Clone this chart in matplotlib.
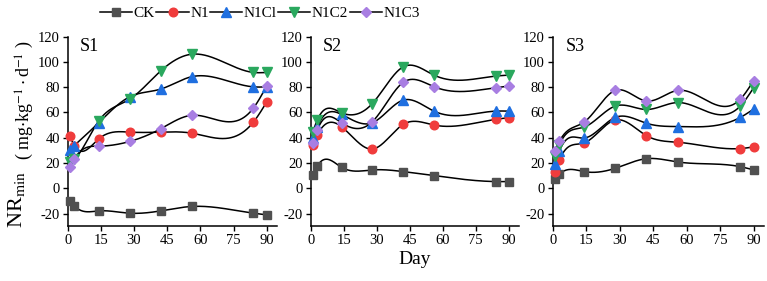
import numpy as np
import matplotlib
matplotlib.use("Agg")
import matplotlib.pyplot as plt
from matplotlib.lines import Line2D

plt.rcParams['font.family'] = ['Liberation Serif', 'DejaVu Serif']
plt.rcParams['mathtext.fontset'] = 'stix'
plt.rcParams['axes.unicode_minus'] = False

days = [1, 3, 14, 28, 42, 56, 84, 90]
names = ['CK', 'N1', 'N1Cl', 'N1C2', 'N1C3']

s1 = {
    'CK':   [-9.9, -14.0, -17.9, -19.7, -17.9, -14.4, -19.7, -21.0],
    'N1':   [41.0, 33.8, 39.0, 44.4, 44.4, 43.6, 52.4, 68.3],
    'N1Cl': [30.6, 33.8, 51.8, 72.3, 78.4, 88.2, 80.2, 80.2],
    'N1C2': [20.6, 23.0, 53.2, 70.4, 92.7, 106.0, 91.6, 91.6],
    'N1C3': [16.6, 23.2, 33.3, 37.0, 47.0, 57.7, 63.5, 81.0],
}
s2 = {
    'CK':   [10.5, 17.6, 16.6, 14.5, 13.2, 10.0, 5.3, 5.3],
    'N1':   [34.0, 42.0, 48.7, 31.0, 50.5, 50.0, 54.5, 55.8],
    'N1Cl': [39.5, 48.7, 58.4, 51.8, 69.7, 61.0, 61.0, 61.0],
    'N1C2': [44.7, 54.0, 59.7, 67.0, 96.0, 89.5, 88.7, 89.5],
    'N1C3': [35.5, 46.0, 51.8, 52.6, 83.7, 80.3, 79.5, 80.8],
}
s3 = {
    'CK':   [7.3, 11.2, 13.2, 15.8, 23.4, 20.8, 17.1, 14.5],
    'N1':   [12.5, 22.3, 35.8, 54.0, 41.6, 36.4, 31.4, 32.7],
    'N1Cl': [19.0, 29.4, 39.7, 56.0, 51.4, 48.8, 56.0, 62.6],
    'N1C2': [25.5, 34.5, 48.3, 65.0, 62.3, 67.8, 65.0, 79.5],
    'N1C3': [29.4, 37.1, 52.2, 77.4, 69.0, 77.4, 70.4, 85.2],
}
panels = ['S1', 'S2', 'S3']
data = [s1, s2, s3]

colors = {'CK': '#505050', 'N1': '#f03c3c', 'N1Cl': '#1f6fe0',
          'N1C2': '#2aa85e', 'N1C3': '#a87ee2'}
markers = {'CK': 's', 'N1': 'o', 'N1Cl': '^', 'N1C2': 'v', 'N1C3': 'D'}
msizes = {'CK': 5.5, 'N1': 6.2, 'N1Cl': 6.8, 'N1C2': 6.8, 'N1C3': 5.6}


def natural_spline(x, y, n=300):
    x = np.asarray(x, float)
    y = np.asarray(y, float)
    k = len(x)
    h = np.diff(x)
    A = np.zeros((k, k))
    b = np.zeros(k)
    A[0, 0] = 1
    A[-1, -1] = 1
    for i in range(1, k - 1):
        A[i, i - 1] = h[i - 1]
        A[i, i] = 2 * (h[i - 1] + h[i])
        A[i, i + 1] = h[i]
        b[i] = 6 * ((y[i + 1] - y[i]) / h[i] - (y[i] - y[i - 1]) / h[i - 1])
    M = np.linalg.solve(A, b)
    xs = np.linspace(x[0], x[-1], n)
    idx = np.clip(np.searchsorted(x, xs) - 1, 0, k - 2)
    x0, x1 = x[idx], x[idx + 1]
    hh = x1 - x0
    t0 = x1 - xs
    t1 = xs - x0
    ys = (M[idx] * t0 ** 3 / (6 * hh) + M[idx + 1] * t1 ** 3 / (6 * hh)
          + (y[idx] / hh - M[idx] * hh / 6) * t0
          + (y[idx + 1] / hh - M[idx + 1] * hh / 6) * t1)
    return xs, ys


W, H = 767, 281
fig = plt.figure(figsize=(W / 100, H / 100), dpi=100)

lefts = [67.7, 310.7, 552.7]
widths = [209, 208, 211]
axes = []
for i in range(3):
    ax = fig.add_axes([lefts[i] / W, 0.195, widths[i] / W, 0.675])
    axes.append(ax)
    for nm in names:
        xs, ys = natural_spline(days, data[i][nm])
        ax.plot(xs, ys, color='black', lw=1.1, zorder=2)
    for nm in names:
        ax.plot(days, data[i][nm], ls='none', marker=markers[nm],
                color=colors[nm], ms=msizes[nm], mec=colors[nm], zorder=3,
                clip_on=False)
    ax.set_xlim(0, 94.5)
    ax.set_ylim(-30, 120)
    ax.set_xticks([0, 15, 30, 45, 60, 75, 90])
    ax.set_yticks([-20, 0, 20, 40, 60, 80, 100, 120])
    ax.spines['top'].set_visible(False)
    ax.spines['right'].set_visible(False)
    ax.tick_params(labelsize=10.5, length=3.5, width=1, pad=2)
    for sp in ['left', 'bottom']:
        ax.spines[sp].set_linewidth(1.1)
    ax.text(0.06, 0.99, panels[i], transform=ax.transAxes, fontsize=13,
            ha='left', va='top')

axes[1].set_xlabel('Day', fontsize=14, labelpad=3)

fig.text(22 / W, (H - 228) / H, r'NR$_{\mathrm{min}}$', rotation=90,
         rotation_mode='anchor', ha='left', va='baseline', fontsize=16)
fig.text(30 / W, (H - 160) / H, r'( mg$\cdot$kg$^{-1}\cdot$d$^{-1}$ )',
         rotation=90, rotation_mode='anchor', ha='left', va='baseline',
         fontsize=13)

handles = [Line2D([0], [0], color='black', lw=1.1, marker=markers[nm],
                  mfc=colors[nm], mec=colors[nm], ms=msizes[nm])
           for nm in names]
fig.legend(handles, ['CK', 'N1', 'N1Cl', 'N1C2', 'N1C3'], loc='center',
           bbox_to_anchor=(260 / W, 1 - 13 / H), ncol=5, frameon=False,
           fontsize=11, handlelength=2.1, handletextpad=0.1,
           columnspacing=0.1, borderpad=0)

fig.savefig('out.png', dpi=100)
